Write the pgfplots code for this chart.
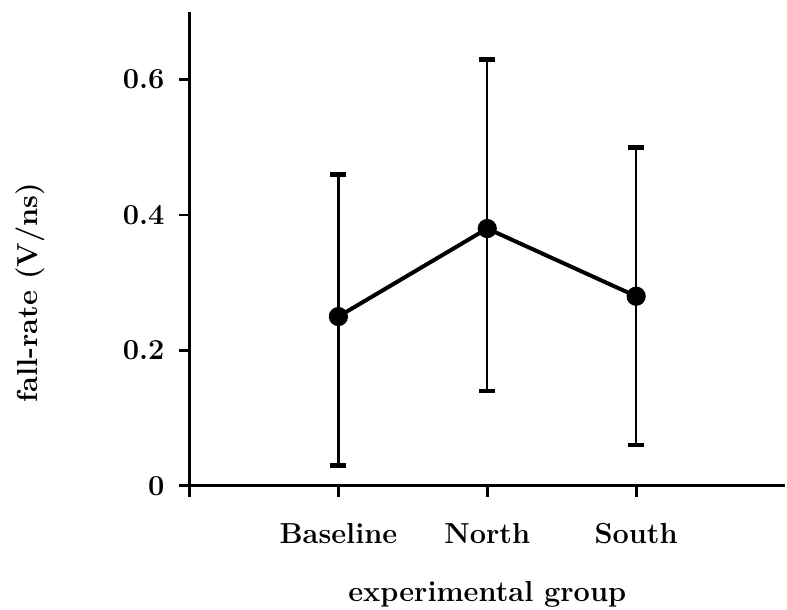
\documentclass[border=0pt]{standalone}
\usepackage{pgfplots}
\pgfplotsset{compat=1.18}

\begin{document}
\begin{tikzpicture}
\begin{axis}[
    scale only axis,
    width=298.5pt, height=237.5pt,
    xmin=0, xmax=4, ymin=0, ymax=0.7,
    axis x line*=bottom, axis y line*=left,
    axis line style={line width=1.4pt, -},
    every tick/.style={line width=1.4pt, black},
    tick align=outside, major tick length=5.5pt,
    xtick={0,1,2,3}, xticklabels={,Baseline,North,South},
    ytick={0,0.2,0.4,0.6}, yticklabels={0,0.2,0.4,0.6},
    /pgf/number format/assume math mode=true,
    tick label style={font=\fontsize{14.5}{17}\selectfont\bfseries},
    xticklabel style={anchor=base, yshift=-23.5pt},
    yticklabel style={anchor=east, xshift=-3.5pt},
    xlabel={experimental group}, ylabel={fall-rate (V/ns)},
    label style={font=\fontsize{14.5}{17}\selectfont\bfseries},
    xlabel style={at={(axis description cs:0.5,-0.229)}, anchor=center},
    ylabel style={at={(axis description cs:-0.268,0.408)}, anchor=center},
    clip=false,
]
\addplot[black, line width=2pt, mark=*, mark size=3.8pt,
    error bars/.cd, y dir=both, y explicit,
    error bar style={line width=1.2pt},
    error mark options={line width=2.2pt, mark size=4pt, rotate=90}]
coordinates {
    (1,0.25) += (0,0.21) -= (0,0.22)
    (2,0.38) += (0,0.25) -= (0,0.24)
    (3,0.28) += (0,0.22) -= (0,0.22)
};
\end{axis}
\pgfresetboundingbox
\useasboundingbox ([shift={(-95pt,-62pt)}]current axis.south west)
    rectangle ([shift={(1pt,6pt)}]current axis.north east);
\end{tikzpicture}
\end{document}
